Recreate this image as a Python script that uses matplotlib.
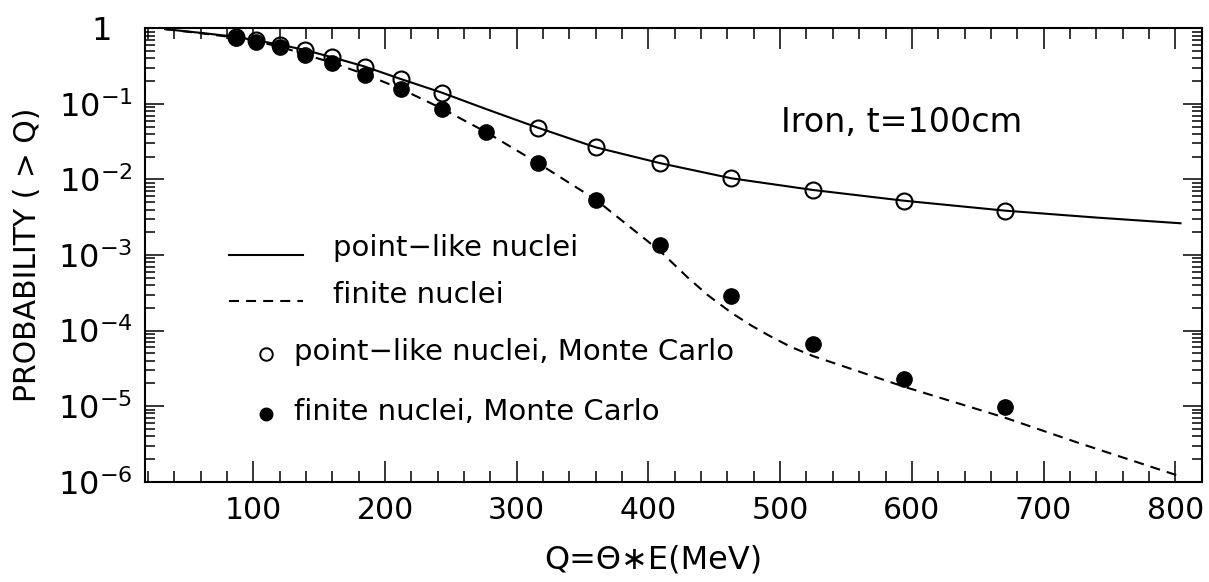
import matplotlib
matplotlib.use("Agg")
import matplotlib.pyplot as plt
from matplotlib.ticker import FixedLocator, LogLocator, NullFormatter, MultipleLocator
from matplotlib.lines import Line2D

# Monte Carlo points
q_open = [87, 102, 120, 139, 160, 185, 212, 243, 316, 360, 409, 463, 525, 594, 671]
p_open = [0.77, 0.69, 0.61, 0.516, 0.413, 0.31, 0.213, 0.141, 0.0484, 0.0266,
          0.0164, 0.01035, 0.00725, 0.00523, 0.00386]

q_fill = [87, 102, 120, 139, 160, 185, 212, 243, 277, 316, 360, 409, 463, 525, 594, 671]
p_fill = [0.75, 0.66, 0.57, 0.443, 0.344, 0.241, 0.156, 0.0855, 0.042, 0.0164,
          0.00535, 0.00136, 2.87e-4, 6.6e-5, 2.26e-5, 9.66e-6]

# analytic curves
q_point = [33, 60, 87, 102, 120, 139, 160, 185, 212, 243, 277, 316, 360, 409,
           463, 525, 594, 671, 740, 804]
p_point = [0.975, 0.87, 0.77, 0.69, 0.61, 0.516, 0.413, 0.31, 0.213, 0.141, 0.085,
           0.0484, 0.0266, 0.0164, 0.01035, 0.00725, 0.00523, 0.00386, 0.00313, 0.00263]

q_finite = [33, 60, 87, 102, 120, 139, 160, 185, 212, 243, 277, 316, 360, 409, 430,
            445, 463, 478, 492, 508, 525, 594, 670, 728, 803]
p_finite = [0.975, 0.86, 0.75, 0.665, 0.575, 0.45, 0.35, 0.245, 0.158, 0.087, 0.042,
            0.0165, 0.0054, 0.00112, 5.0e-4, 2.95e-4, 1.72e-4, 1.17e-4, 8.5e-5, 6.1e-5,
            4.6e-5, 1.81e-5, 7.1e-6, 3.2e-6, 1.19e-6]

x_ticks = [100, 200, 300, 400, 500, 600, 700, 800]
y_ticks = [1, 1e-1, 1e-2, 1e-3, 1e-4, 1e-5, 1e-6]
y_labels = ["1  ", r"$10^{-1}$", r"$10^{-2}$", r"$10^{-3}$", r"$10^{-4}$",
            r"$10^{-5}$", r"$10^{-6}$"]

plt.rcParams["font.family"] = "DejaVu Sans"
plt.rcParams["mathtext.fontset"] = "dejavusans"

fig = plt.figure(figsize=(12.09, 5.82), dpi=100)
ax = fig.add_axes([0.1199, 0.1723, 0.8743, 0.7791])

ax.plot(q_point, p_point, color="black", lw=1.5)
ax.plot(q_finite, p_finite, color="black", lw=1.5, dashes=[4.8, 3.4])
ax.plot(q_open, p_open, "o", ms=11.5, mfc="none", mec="black", mew=1.5)
ax.plot(q_fill, p_fill, "o", ms=11, mfc="black", mec="black")

ax.set_yscale("log")
ax.set_xlim(17.7, 820.3)
ax.set_ylim(1e-6, 1)

ax.xaxis.set_major_locator(FixedLocator(x_ticks))
ax.xaxis.set_minor_locator(MultipleLocator(20))
ax.set_xticklabels([str(v) for v in x_ticks])
ax.yaxis.set_major_locator(FixedLocator(y_ticks))
ax.yaxis.set_minor_locator(LogLocator(base=10, subs=range(2, 10)))
ax.yaxis.set_minor_formatter(NullFormatter())
ax.set_yticklabels(y_labels)

for s in ax.spines.values():
    s.set_linewidth(1.5)
ax.tick_params(which="both", direction="in", top=True, right=True, width=1.1)
ax.tick_params(axis="x", which="major", length=15, pad=10, labelsize=21.5)
ax.tick_params(axis="x", which="minor", length=8)
ax.tick_params(axis="y", which="major", length=14, pad=9, labelsize=23)
ax.tick_params(axis="y", which="minor", length=7)

ax.set_xlabel("Q=Θ∗E(MeV)", fontsize=23)
ax.xaxis.set_label_coords(0.4806, -0.1727)
ax.xaxis.label.set_verticalalignment("center")
ax.set_ylabel("PROBABILITY ( > Q)", fontsize=21.5)
ax.yaxis.set_label_coords(-0.1107, 0.5)
ax.yaxis.label.set_verticalalignment("center")

ax.text(0.6017, 0.7933, "Iron, t=100cm", transform=ax.transAxes, fontsize=24,
        ha="left", va="center")

# hand-made legend
tr = ax.transAxes
ax.add_line(Line2D([0.0795, 0.1495], [0.500, 0.500], transform=tr, color="black", lw=1.5))
ax.add_line(Line2D([0.0795, 0.1495], [0.399, 0.399], transform=tr, color="black", lw=1.5,
                   dashes=[4.8, 3.4]))
ax.plot([0.1145], [0.2814], "o", transform=tr, ms=9, mfc="none", mec="black", mew=1.4)
ax.plot([0.1145], [0.149], "o", transform=tr, ms=9, mfc="black", mec="black")
ax.text(0.1779, 0.497, "point−like nuclei", transform=tr, fontsize=21, va="baseline")
ax.text(0.1779, 0.394, "finite nuclei", transform=tr, fontsize=21, va="baseline")
ax.text(0.141, 0.268, "point−like nuclei, Monte Carlo", transform=tr, fontsize=21,
        va="baseline")
ax.text(0.141, 0.137, "finite nuclei, Monte Carlo", transform=tr, fontsize=21,
        va="baseline")

fig.savefig("out.png", dpi=100)
